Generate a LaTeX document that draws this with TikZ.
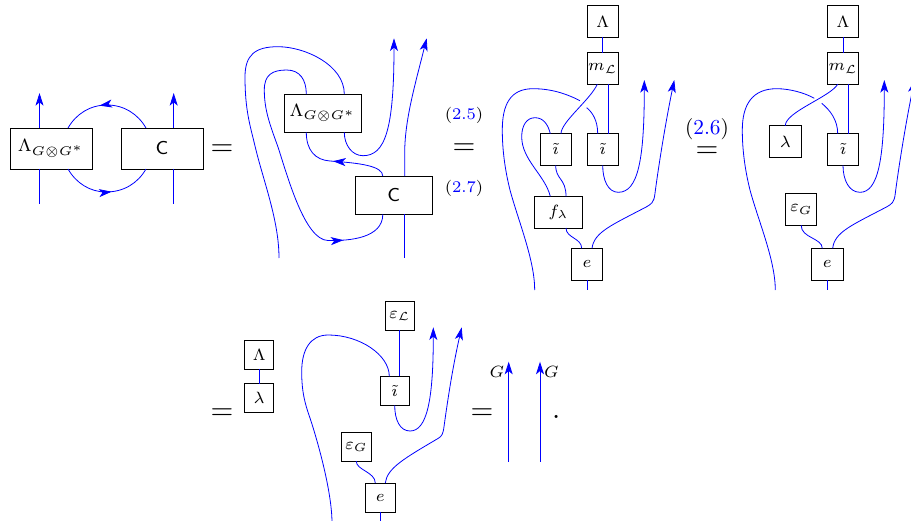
\documentclass[tikz,border=0pt]{standalone}
\usepackage{amsmath}
\usepackage{amssymb}
\usepackage{xcolor}
\usetikzlibrary{arrows.meta,decorations.markings}

\newcommand{\lab}[1]{\scalebox{1.75}{$\scriptstyle #1$}}
\newcommand{\labwide}[1]{\scalebox{1.9}{$\scriptstyle #1$}}
\newcommand{\labcou}{\scalebox{1.75}{\footnotesize\sffamily C}}

\tikzset{
  wire/.style={blue,line width=0.6pt},
  tip/.tip={Stealth[length=9.5pt,width=6pt,inset=2.5pt]},
  upwire/.style={wire,-{tip}},
  midtip/.style={postaction={decorate,decoration={markings,mark=at position #1 with {\arrow{tip}}}}},
  box/.style={draw,line width=0.6pt,inner sep=0pt,outer sep=0pt},
  boxS/.style={box,minimum width=23.5pt,minimum height=23.7pt},
  boxT/.style={box,minimum width=22pt,minimum height=21.7pt},
  eqsign/.style={inner sep=0pt,scale=2.2},
  refsmall/.style={inner sep=0pt,font=\scriptsize,scale=1.75},
  reflarge/.style={inner sep=0pt,scale=1.6},
  glabel/.style={inner sep=0pt}
}

\begin{document}
\begin{tikzpicture}[x=0.75pt,y=0.75pt,yscale=-1,xscale=1]
\useasboundingbox (0,0) rectangle (911,521);

% first term
\node (lamA) [box,minimum width=61.5pt,minimum height=30.7pt] at (51,148.5) {\labwide{\Lambda_{G\otimes G^*}}};
\node (couA) [box,minimum width=61.5pt,minimum height=30.7pt] at (162,148.5) {\labcou};
\coordinate (lamAup) at (39.5,93);
\coordinate (lamAdn) at (39.5,204);
\coordinate (couAup) at (173.7,93);
\coordinate (couAdn) at (173.7,204);
\draw[upwire] (lamAup |- lamA.north) -- (lamAup);
\draw[wire] (lamA.south -| lamAdn) -- (lamAdn);
\draw[upwire] (couAup |- couA.north) -- (couAup);
\draw[wire] (couA.south -| couAdn) -- (couAdn);
\draw[wire,midtip=0.58] ([shift={(-16,0)}]couA.north) .. controls (138,114) and (124,105) .. (107,105) .. controls (90,105) and (76,114) .. ([shift={(17,0)}]lamA.north);
\draw[wire,midtip=0.55] ([shift={(17,0)}]lamA.south) .. controls (76,183) and (90,192) .. (106,192) .. controls (124,192) and (138,183) .. ([shift={(-16,0)}]couA.south);

\node (eqA) [eqsign] at (222,150) {$=$};

% second term
\node (lamB) [box,minimum width=57.7pt,minimum height=28.7pt] at (322.8,113.2) {\labwide{\Lambda_{G\otimes G^*}}};
\node (couB) [box,minimum width=57.7pt,minimum height=28.7pt] at (393.8,195.2) {\labcou};
\coordinate (endB1) at (279,258);
\coordinate (endB2) at (404.7,258);
\coordinate (upB1) at (394,38.3);
\coordinate (upB2) at (426.7,38.3);
\draw[wire] ([shift={(21.5,0)}]lamB.north) .. controls (344.3,65) and (305,46.7) .. (278,46.7) .. controls (255,46.7) and (245,55) .. (245,77) .. controls (245,110) and (250,125) .. (255,146) .. controls (263,180) and (279,220) .. (endB1);
\draw[wire,midtip=0.83] ([shift={(-16.5,0)}]lamB.north) .. controls (306.3,80) and (300,70) .. (286.7,70) .. controls (272,70) and (264.3,75) .. (264.3,90) .. controls (264.3,110) and (270,125) .. (278,147) .. controls (288,178) and (305,240) .. (328,240.5) .. controls (350,241) and (382.7,238) .. ([shift={(-11,0)}]couB.south);
\draw[upwire] ([shift={(21.5,0)}]lamB.south) .. controls (344.3,145) and (352,155.7) .. (363,155.7) .. controls (385,155.7) and (394,130) .. (upB1);
\draw[wire,midtip=0.55] ([shift={(-11,0)}]couB.north) .. controls (382.7,166) and (360,163) .. (330,161) .. controls (315,160) and (306.3,150) .. ([shift={(-16.5,0)}]lamB.south);
\draw[upwire] ([shift={(11,0)}]couB.north) -- (404.7,153) .. controls (404.7,120) and (415,85) .. (upB2);
\draw[wire] (couB.south -| endB2) -- (endB2);

\node (refA) [refsmall] at (464,115) {(\textcolor{blue}{2.5})};
\node (eqB) [eqsign] at (464,149) {$=$};
\node (refB) [refsmall] at (464,188) {(\textcolor{blue}{2.7})};

% third term
\node (lamC) [boxS] at (602.7,21.5) {\lab{\Lambda}};
\node (mulC) [boxS] at (602.7,68.5) {\lab{m_{\mathcal{L}}}};
\node (iotC) [boxS] at (555.7,149.5) {\lab{\tilde{\imath}}};
\node (itrC) [boxS] at (602.7,149.5) {\lab{\tilde{\imath}}};
\node (flaC) [box,minimum width=35.5pt,minimum height=23.7pt] at (558.3,212.2) {\lab{f_{\lambda}}};
\node (ecoC) [boxS] at (587,264.2) {\lab{e}};
\coordinate (endC1) at (534.7,290);
\coordinate (endC2) at (587,290);
\coordinate (upC1) at (644.3,80);
\coordinate (upC2) at (674.3,80);
\draw[wire] (lamC) -- (mulC);
\draw[wire] ([shift={(5.6,0)}]mulC.south) -- ([shift={(5.6,0)}]itrC.north);
\draw[wire] ([shift={(-5.4,0)}]mulC.south) .. controls (590,100) and (561,122) .. ([shift={(5.3,0)}]iotC.north);
\draw[wire] ([shift={(-5,0)}]itrC.north) .. controls (597.7,120) and (592,112) .. (586.7,107.7);
\draw[wire] (580,100.7) .. controls (565,93) and (550,88.7) .. (533,88.7) .. controls (510,88.7) and (502.3,105) .. (502.3,130) .. controls (502.3,150) and (505,170) .. (510,190) .. controls (518,220) and (534.7,260) .. (endC1);
\draw[wire] ([shift={(-5.4,0)}]iotC.north) .. controls (548,124) and (543,117.7) .. (535,117.7) .. controls (527,117.7) and (521.7,125) .. (521.7,136.7) .. controls (521.7,160) and (545,175) .. ([shift={(-8,0)}]flaC.north);
\draw[wire] (iotC.south) .. controls (555.7,180) and (566,178) .. ([shift={(7.7,0)}]flaC.north);
\draw[upwire] (itrC.south) .. controls (602.7,180) and (608,192.3) .. (618.3,192.3) .. controls (638,192.3) and (644.3,160) .. (upC1);
\draw[wire] ([shift={(7.7,0)}]flaC.south) .. controls (566,238) and (581.7,238) .. ([shift={(-5.3,0)}]ecoC.north);
\draw[upwire] ([shift={(5,0)}]ecoC.north) .. controls (594,232) and (612,225) .. (646.7,206.7) .. controls (651,204) and (654,203) .. (655,193.3) .. controls (658,170) and (665,125) .. (upC2);
\draw[wire] (ecoC) -- (endC2);

\node (refC) [reflarge] at (707,129) {(\textcolor{blue}{2.6})};
\node (eqC) [eqsign] at (707,152) {$=$};

% fourth term
\node (lamD) [boxS] at (843,21.5) {\lab{\Lambda}};
\node (mulD) [boxS] at (843,68.5) {\lab{m_{\mathcal{L}}}};
\node (lbdD) [boxS] at (785.3,141.5) {\lab{\lambda}};
\node (itrD) [boxS] at (843,149.5) {\lab{\tilde{\imath}}};
\node (epsD) [boxS] at (801.2,209.5) {\lab{\varepsilon_{G}}};
\node (ecoD) [boxS] at (827.3,264.2) {\lab{e}};
\coordinate (endD1) at (775.3,290);
\coordinate (endD2) at (827.3,290);
\coordinate (upD1) at (884.3,80);
\coordinate (upD2) at (914.6,80);
\draw[wire] (lamD) -- (mulD);
\draw[wire] ([shift={(5.3,0)}]mulD.south) -- ([shift={(5.3,0)}]itrD.north);
\draw[wire] ([shift={(-5.3,0)}]mulD.south) .. controls (830,97) and (785.3,112) .. (lbdD.north);
\draw[wire] ([shift={(-5.3,0)}]itrD.north) .. controls (837.7,120) and (830,110) .. (821.7,103.3);
\draw[wire] (814.3,98.3) .. controls (805,93) and (790,88.7) .. (776.7,88.7) .. controls (752,88.7) and (742.3,105) .. (742.3,130) .. controls (742.3,150) and (745,170) .. (750,190) .. controls (758,220) and (775.3,260) .. (endD1);
\draw[upwire] (itrD.south) .. controls (843,180) and (849,192.3) .. (860,192.3) .. controls (878,192.3) and (884.3,160) .. (upD1);
\draw[wire] (epsD.south) .. controls (801,238) and (822.3,238) .. ([shift={(-5,0)}]ecoD.north);
\draw[upwire] ([shift={(5.4,0)}]ecoD.north) .. controls (834.3,232) and (852.3,225) .. (887,206.7) .. controls (891.3,204) and (894.3,203) .. (895.3,193.3) .. controls (898.3,170) and (905.3,125) .. (upD2);
\draw[wire] (ecoD) -- (endD2);

% second row
\node (eqD) [eqsign] at (222,413.7) {$=$};
\node (lamE) [boxT] at (259.2,354.8) {\lab{\Lambda}};
\node (lbdE) [boxT] at (259.2,398.2) {\lab{\lambda}};
\draw[wire] (lamE) -- (lbdE);

\node (couE) [boxT] at (399.7,316) {\lab{\varepsilon_{\mathcal{L}}}};
\node (itrE) [boxT] at (394.7,390.8) {\lab{\tilde{\imath}}};
\node (epsE) [boxT] at (356.3,446.7) {\lab{\varepsilon_{G}}};
\node (ecoE) [boxT] at (380.3,497.5) {\lab{e}};
\coordinate (endE1) at (332,523);
\coordinate (endE2) at (380.3,523);
\coordinate (upE1) at (433.3,327.3);
\coordinate (upE2) at (461.7,327.3);
\draw[wire] (couE.south) -- (itrE.north -| couE.south);
\draw[wire] ([shift={(-5.4,0)}]itrE.north) .. controls (389.3,355) and (360,335) .. (328.3,335) .. controls (310,335) and (301.7,350) .. (301.7,371.7) .. controls (301.7,392) and (305,404) .. (310,418) .. controls (316,436) and (332,490) .. (endE1);
\draw[upwire] (itrE.south) .. controls (394.7,420) and (400,431) .. (410,431) .. controls (427,431) and (433.3,400) .. (upE1);
\draw[wire] (epsE.south) .. controls (356,470) and (375.3,472) .. ([shift={(-5,0)}]ecoE.north);
\draw[upwire] ([shift={(5,0)}]ecoE.north) .. controls (387,468) and (405,458) .. (438.3,438.3) .. controls (442,436) and (443,434) .. (444,426.7) .. controls (447,405) and (452,370) .. (upE2);
\draw[wire] (ecoE) -- (endE2);

\node (eqE) [eqsign] at (482,413.7) {$=$};
\coordinate (gaup) at (508.7,361.7);
\coordinate (gadn) at (508.7,461.7);
\coordinate (gbup) at (540,361.7);
\coordinate (gbdn) at (540,461.7);
\draw[upwire] (gadn) -- (gaup);
\draw[upwire] (gbdn) -- (gbup);
\node (ga) [glabel] at (497,372) {\lab{G}};
\node (gb) [glabel] at (551.3,372) {\lab{G}};
\node (dot) [eqsign] at (556.3,417.3) {$.$};

\end{tikzpicture}
\end{document}
